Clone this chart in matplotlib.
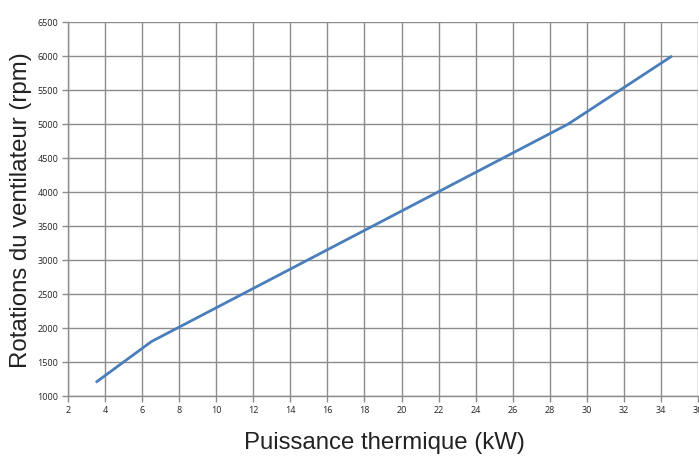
import matplotlib
matplotlib.use("Agg")
import matplotlib.pyplot as plt

power_kw = [3.5, 6.5, 29.0, 34.6]
fan_rpm = [1200, 1800, 5000, 6000]
x_ticks = list(range(2, 37, 2))
y_ticks = list(range(1000, 6501, 500))

fig = plt.figure(figsize=(6.99, 4.57), dpi=100)
ax = fig.add_axes([68/699, 1-396/457, 630/699, 374/457])
ax.plot(power_kw, fan_rpm, color="#4a7ebb", linewidth=2.0, solid_capstyle="butt")
ax.set_xlim(2, 36)
ax.set_ylim(1000, 6500)
ax.set_xticks(x_ticks)
ax.set_yticks(y_ticks)
ax.grid(True, color="#8c8c8c", linewidth=1.0)
ax.set_axisbelow(True)
for s in ["top", "right"]:
    ax.spines[s].set_visible(False)
for s in ["bottom", "left"]:
    ax.spines[s].set_color("#8c8c8c")
    ax.spines[s].set_linewidth(1.0)
ax.tick_params(axis="both", colors="#8c8c8c", labelcolor="#222222", labelsize=6.5, length=4, width=1.0, direction="out", pad=3)
for lab in ax.get_xticklabels() + ax.get_yticklabels():
    lab.set_family(["Open Sans", "DejaVu Sans"])
fig.text(21/699, 1-210/457, "Rotations du ventilateur (rpm)", rotation=90, ha="center", va="center",
         fontsize=17.3, family=["Liberation Sans"], color="#222222")
fig.text(384/699, 1-443/457, "Puissance thermique (kW)", ha="center", va="center",
         fontsize=17.3, family=["Liberation Sans"], color="#222222")
fig.savefig("out.png", dpi=100)
